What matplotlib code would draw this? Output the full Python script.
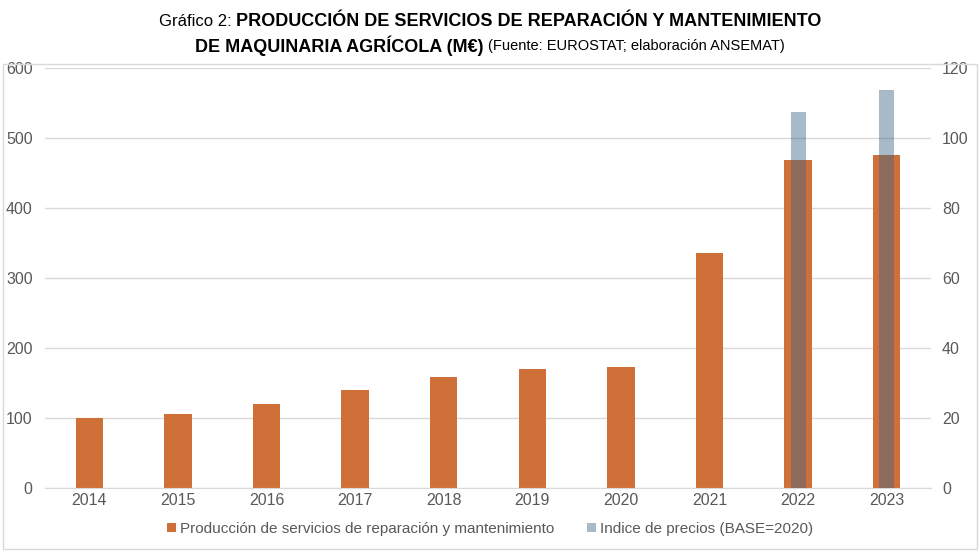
import matplotlib
matplotlib.use('Agg')
import matplotlib.pyplot as plt
import numpy as np
from matplotlib.patches import Rectangle

plt.rcParams['font.family'] = ['Liberation Sans', 'DejaVu Sans']

# data
years = ['2014', '2015', '2016', '2017', '2018', '2019', '2020', '2021', '2022', '2023']
produccion = [100, 106, 120, 140, 159, 170, 173, 336, 469, 476]
indice = [np.nan, np.nan, np.nan, np.nan, np.nan, np.nan, np.nan, np.nan, 107.4, 113.7]

orange = '#CF7039'
grey = '#3E6485'
txt = '#595959'

fig = plt.figure(figsize=(9.8, 5.53), dpi=100)
ax = fig.add_axes([0.046, 0.118, 0.904, 0.759])
ax2 = ax.twinx()

x = np.arange(len(years))
ax.bar(x, produccion, width=0.31, color=orange, zorder=2,
       label='Producción de servicios de reparación y mantenimiento')
ax2.bar(x, indice, width=0.17, color=grey, alpha=0.45, zorder=3,
        label='Indice de precios (BASE=2020)')

ax.set_xlim(-0.5, 9.5)
ax.set_ylim(0, 600)
ax2.set_ylim(0, 120)
ax.set_yticks(range(0, 601, 100))
ax2.set_yticks(range(0, 121, 20))
ax.set_xticks(x)
ax.set_xticklabels(years)
ax.yaxis.grid(True, color='#D9D9D9', linewidth=1)
ax.set_axisbelow(True)

for a in (ax, ax2):
    for s in a.spines.values():
        s.set_visible(False)
    a.tick_params(length=0, labelsize=11.5, colors=txt)
ax.spines['bottom'].set_visible(True)
ax.spines['bottom'].set_color('#D9D9D9')
ax.tick_params(axis='y', pad=9)
ax2.tick_params(axis='y', pad=8)
ax.tick_params(axis='x', pad=4)

# legend
h1, l1 = ax.get_legend_handles_labels()
h2, l2 = ax2.get_legend_handles_labels()
fig.legend(h1 + h2, l1 + l2, loc='center', bbox_to_anchor=(0.5, 0.043), ncol=2,
           frameon=False, fontsize=11, labelcolor=txt, handlelength=0.55,
           handleheight=0.55, handletextpad=0.25, columnspacing=2.2)

# light frame around the chart
fig.patches.append(Rectangle((0.003, 0.008), 0.994, 0.876, transform=fig.transFigure,
                             fill=False, edgecolor='#D9D9D9', linewidth=1))

# title with mixed weights
def put_line(parts, y):
    r = fig.canvas.get_renderer()
    texts = [fig.text(0, y, s, fontsize=fs, fontweight=w, color='black', va='center')
             for s, w, fs in parts]
    widths = [t.get_window_extent(r).width for t in texts]
    start = (fig.bbox.width - sum(widths)) / 2
    for t, w in zip(texts, widths):
        t.set_x(start / fig.bbox.width)
        start += w

put_line([('Gráfico 2: ', 'normal', 12),
          ('PRODUCCIÓN DE SERVICIOS DE REPARACIÓN Y MANTENIMIENTO', 'bold', 13)], 0.962)
put_line([('DE MAQUINARIA AGRÍCOLA (M€) ', 'bold', 13),
          ('(Fuente: EUROSTAT; elaboración ANSEMAT)', 'normal', 10.5)], 0.917)

fig.savefig('out.png', dpi=100)
